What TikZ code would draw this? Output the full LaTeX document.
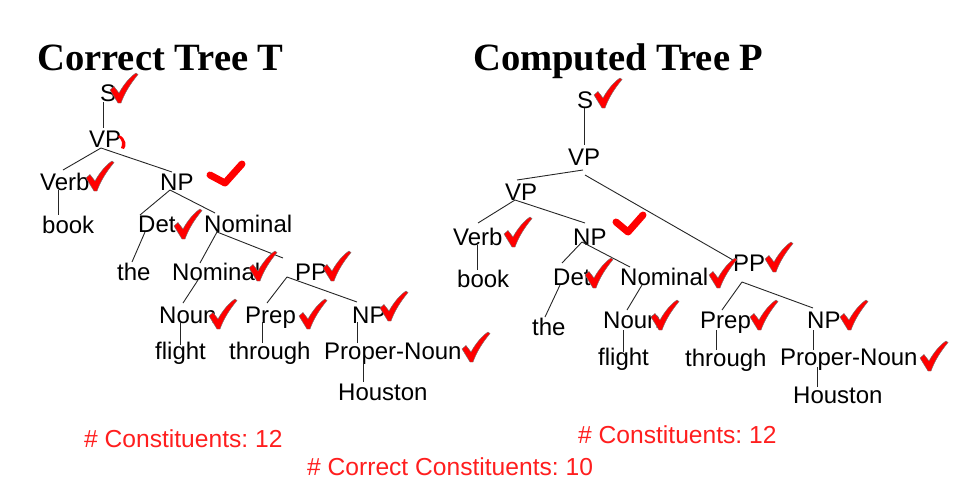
\documentclass[tikz,border=0pt]{standalone}
\usepackage{fontspec}
\setmainfont{Liberation Sans}
\newfontfamily\titlefont{Liberation Serif}
\usetikzlibrary{calc}
\definecolor{cred}{RGB}{255,30,30}
\frenchspacing
\begin{document}
\begin{tikzpicture}[x=1pt,y=-1pt,
  tn/.style={anchor=base west, inner sep=0pt, font=\fontsize{24}{28}\selectfont},
  ttl/.style={anchor=base west, inner sep=0pt, font=\titlefont\bfseries\fontsize{38.6}{42}\selectfont},
  cnt/.style={anchor=base west, inner sep=0pt, text=cred, font=\fontsize{24.6}{28}\selectfont},
  br/.style={draw=black!85, line width=0.9pt},
  bigchk/.style={draw=red, line width=7pt, line cap=round, line join=round},
  chk/.pic={\filldraw[fill=red, draw=black!55, line width=0.4pt]
     (0,17) -- (4,13.5) -- (9,20) .. controls (14,11) and (20,4) .. (26,0)
     -- (28,1.5) .. controls (21,10) and (15,19) .. (11,30) -- (8,30) -- cycle;}
]
\useasboundingbox (0,0) rectangle (954,496);

% titles
\node[ttl] (T1) at (37,70) {Correct Tree T};
\node[ttl] (T2) at (473,70) {Computed Tree P};

% ---------------- left tree ----------------
\node[tn] (LS) at (100,101) {S};
\node[tn] (LVP) at (89,147) {VP};
\node[tn] (LVerb) at (40,190) {Verb};
\node[tn] (LNP) at (160,190) {NP};
\node[tn] (Lbook) at (42,233) {book};
\node[tn] (LDet) at (138,232) {Det};
\node[tn] (LNom) at (204,232) {Nominal};
\node[tn] (Lthe) at (117,280) {the};
\node[tn] (LNomb) at (172,280) {Nominal};
\node[tn] (LPP) at (295,280) {PP};
\node[tn] (LNoun) at (159,323) {Noun};
\node[tn] (LPrep) at (245,323) {Prep};
\node[tn] (LNPb) at (352,323) {NP};
\node[tn] (Lflight) at (155,359) {flight};
\node[tn] (Lthrough) at (229,359) {through};
\node[tn] (LPN) at (324,359) {Proper-Noun};
\node[tn] (LHou) at (338,400) {Houston};

\draw[br] ($(LS.base west)+(3,1)$) -- ($(LVP.base west)+(14,-19)$);
\draw[br] ($(LVP.base west)+(12,1)$) -- ($(LVerb.base west)+(23,-20)$);
\draw[br] ($(LVP.base west)+(12,1)$) -- ($(LNP.base west)+(12,-18)$);
\draw[br] ($(LVerb.base west)+(18,0)$) -- ($(Lbook.base west)+(16,-18)$);
\draw[br] ($(LNP.base west)+(10,0)$) -- ($(LDet.base west)+(2,-17)$);
\draw[br] ($(LNP.base west)+(10,0)$) -- ($(LNom.base west)+(11,-19)$);
\draw[br] ($(LDet.base west)+(7,0)$) -- ($(Lthe.base west)+(15,-18)$);
\draw[br] ($(LNom.base west)+(13,0)$) -- ($(LNomb.base west)+(28,-17)$);
\draw[br] ($(LNom.base west)+(13,0)$) -- ($(LPP.base west)+(-12,-22)$);
\draw[br] ($(LNomb.base west)+(26,0)$) -- ($(LNoun.base west)+(24,-20)$);
\draw[br] ($(LPP.base west)+(-8,-3)$) -- ($(LPrep.base west)+(22,-20)$);
\draw[br] ($(LPP.base west)+(-8,-3)$) -- ($(LNPb.base west)+(5,-21)$);
\draw[br] ($(LNoun.base west)+(21,-1)$) -- ($(Lflight.base west)+(25,-14)$);
\draw[br] ($(LPrep.base west)+(17,-1)$) -- ($(Lthrough.base west)+(33,-16)$);
\draw[br] ($(LNPb.base west)+(5,-1)$) -- ($(LPN.base west)+(33,-16)$);
\draw[br] ($(LPN.base west)+(39,3)$) -- ($(LHou.base west)+(25,-18)$);

% left checks
\pic at (110,73) {chk};
\fill[red] (119,135) .. controls (126,138) and (127,146) .. (124,149)
   -- (121,148) .. controls (123,144) and (122,139) .. (118,137) -- cycle;
\pic at (86,161) {chk};
\draw[bigchk] (210,175) -- (225,183) -- (242,164);
\pic at (174,209) {chk};
\pic at (249,251) {chk};
\pic at (323,251) {chk};
\pic at (209,299) {chk};
\pic at (299,299) {chk};
\pic at (380,291) {chk};
\pic at (462,332) {chk};

% ---------------- right tree ----------------
\node[tn] (RS) at (577,108) {S};
\node[tn] (RVP) at (568,165) {VP};
\node[tn] (RVPb) at (505,200) {VP};
\node[tn] (RVerb) at (453,245) {Verb};
\node[tn] (RNP) at (573,245) {NP};
\node[tn] (Rbook) at (457,287) {book};
\node[tn] (RDet) at (553,285) {Det};
\node[tn] (RNom) at (620,285) {Nominal};
\node[tn] (RPP) at (733,271) {PP};
\node[tn] (Rthe) at (532,335) {the};
\node[tn] (RNoun) at (603,328) {Noun};
\node[tn] (RPrep) at (700,328) {Prep};
\node[tn] (RNPb) at (807,328) {NP};
\node[tn] (Rflight) at (598,365) {flight};
\node[tn] (Rthrough) at (685,366) {through};
\node[tn] (RPN) at (780,365) {Proper-Noun};
\node[tn] (RHou) at (793,403) {Houston};

\draw[br] ($(RS.base west)+(7,0)$) -- ($(RVP.base west)+(16,-20)$);
\draw[br] ($(RVP.base west)+(15,5)$) -- ($(RVPb.base west)+(12,-20)$);
\draw[br] ($(RVP.base west)+(17,10)$) -- ($(RPP.base west)+(0,-11)$);
\draw[br] ($(RVPb.base west)+(10,0)$) -- ($(RVerb.base west)+(25,-22)$);
\draw[br] ($(RVPb.base west)+(10,0)$) -- ($(RNP.base west)+(12,-22)$);
\draw[br] ($(RVerb.base west)+(24,0)$) -- ($(Rbook.base west)+(20,-17)$);
\draw[br] ($(RNP.base west)+(9,-3)$) -- ($(RDet.base west)+(9,-22)$);
\draw[br] ($(RNP.base west)+(9,-3)$) -- ($(RNom.base west)+(10,-18)$);
\draw[br] ($(RDet.base west)+(7,0)$) -- ($(Rthe.base west)+(13,-18)$);
\draw[br] ($(RNom.base west)+(22,0)$) -- ($(RNoun.base west)+(24,-18)$);
\draw[br] ($(RPP.base west)+(9,11)$) -- ($(RPrep.base west)+(22,-18)$);
\draw[br] ($(RPP.base west)+(9,11)$) -- ($(RNPb.base west)+(6,-20)$);
\draw[br] ($(RNoun.base west)+(20,2)$) -- ($(Rflight.base west)+(25,-13)$);
\draw[br] ($(RPrep.base west)+(16,2)$) -- ($(Rthrough.base west)+(31,-16)$);
\draw[br] ($(RNPb.base west)+(6,2)$) -- ($(RPN.base west)+(33,-15)$);
\draw[br] ($(RPN.base west)+(37,2)$) -- ($(RHou.base west)+(24,-16)$);

% right checks
\pic at (594,78) {chk};
\pic at (504,217) {chk};
\draw[bigchk] (616,222) -- (628,232) -- (643,215);
\pic at (585,258) {chk};
\pic at (709,258) {chk};
\pic at (765,242) {chk};
\pic at (651,300) {chk};
\pic at (750,300) {chk};
\pic at (840,300) {chk};
\pic at (920,341) {chk};

% counts
\node[cnt] (C1) at (84,447) {\# Constituents: 12};
\node[cnt] (C2) at (578,443) {\# Constituents: 12};
\node[cnt] (C3) at (307,475) {\# Correct Constituents: 10};
\end{tikzpicture}
\end{document}
